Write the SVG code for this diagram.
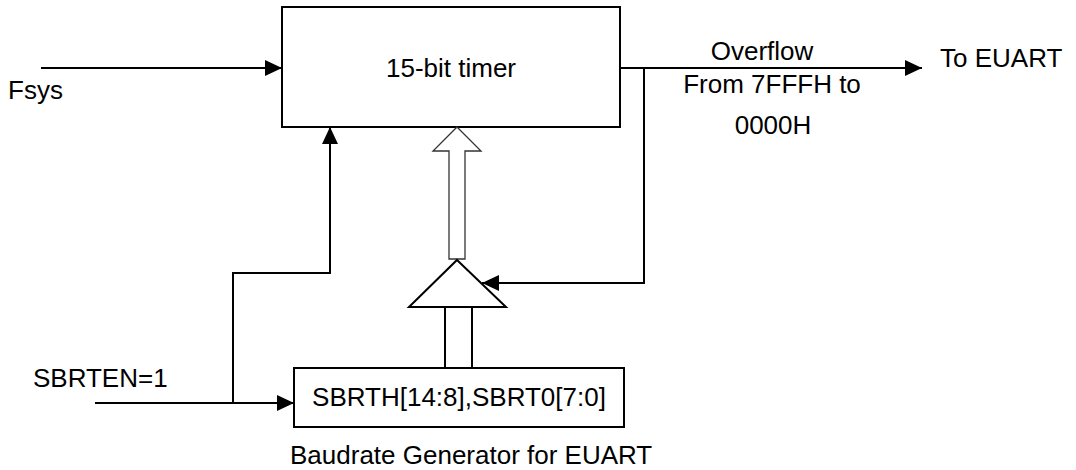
<svg xmlns="http://www.w3.org/2000/svg" width="1076" height="470" viewBox="0 0 1076 470">
  <style>
    .box { fill: #ffffff; stroke: #000000; stroke-width: 2; }
    .wire { fill: none; stroke: #000000; stroke-width: 2; }
    .hollow { fill: #ffffff; stroke: #333333; stroke-width: 1.3; }
    .lbl { font-family: "Liberation Sans", Arial, sans-serif; font-size: 26px; fill: #000000; }
  </style>
  <defs>
    <marker id="arr" viewBox="0 0 17 16" refX="17" refY="8" markerWidth="17" markerHeight="16" markerUnits="userSpaceOnUse" orient="auto">
      <path d="M0,0 L17,8 L0,16 z" fill="#000000"/>
    </marker>
  </defs>
  <rect width="1076" height="470" fill="#ffffff"/>

  <g id="connectors">
    <path class="wire" d="M41,68 H282" marker-end="url(#arr)"/>
    <path class="wire" d="M620,68 H922" marker-end="url(#arr)"/>
    <path class="wire" d="M644,68 V283 H482" marker-end="url(#arr)"/>
    <path class="wire" d="M95,403 H294" marker-end="url(#arr)"/>
    <path class="wire" d="M233,403 V273 H330 V127" marker-end="url(#arr)"/>
    <path class="wire" d="M445,307 V368 M472,307 V368"/>
  </g>

  <g id="timer">
    <rect class="box" x="282" y="7" width="338" height="120"/>
    <text class="lbl" x="451" y="77" text-anchor="middle">15-bit timer</text>
  </g>

  <g id="bus-arrow">
    <polygon class="hollow" points="457,127 481,151 465,151 465,259 449,259 449,151 433,151"/>
  </g>

  <g id="mux">
    <polygon class="box" points="457,260 506,307 409,307"/>
  </g>

  <g id="reload">
    <rect class="box" x="294" y="368" width="330" height="59"/>
    <text class="lbl" x="459" y="406" text-anchor="middle">SBRTH[14:8],SBRT0[7:0]</text>
  </g>

  <g id="labels">
    <text class="lbl" x="8" y="99">Fsys</text>
    <text class="lbl" x="940" y="67">To EUART</text>
    <text class="lbl" x="762" y="60" text-anchor="middle">Overflow</text>
    <text class="lbl" x="772" y="93" text-anchor="middle">From 7FFFH to</text>
    <text class="lbl" x="773" y="134" text-anchor="middle">0000H</text>
    <text class="lbl" x="33" y="387">SBRTEN=1</text>
    <text class="lbl" x="290" y="464">Baudrate Generator for EUART</text>
  </g>
</svg>
